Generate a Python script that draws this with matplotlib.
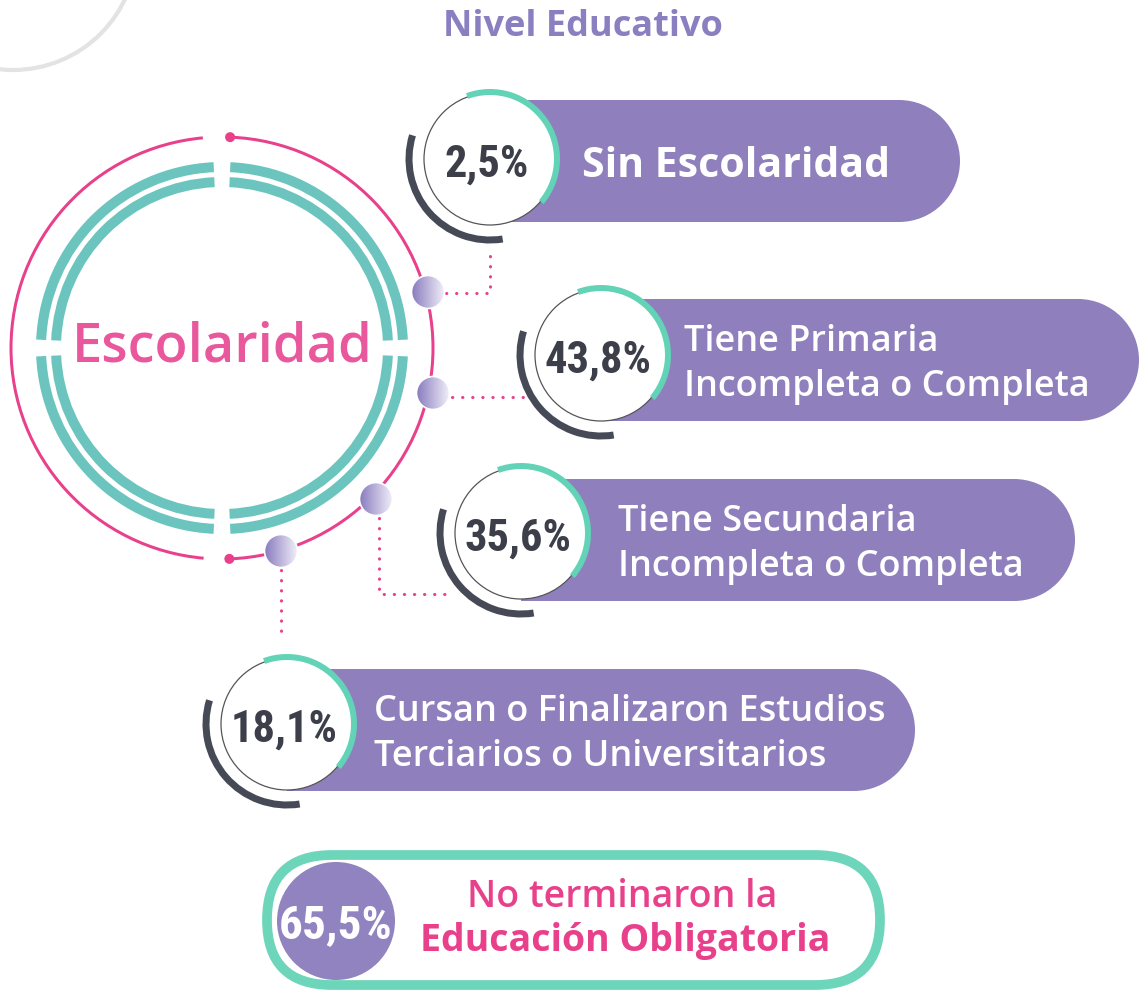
import numpy as np
import matplotlib
matplotlib.use("Agg")
import matplotlib.pyplot as plt
from matplotlib import font_manager
from matplotlib.patches import Circle, Wedge, Rectangle, FancyBboxPatch

# datos del grafico
titulo = "Nivel Educativo"
centro_txt = "Escolaridad"
niveles = [["Sin Escolaridad"],
           ["Tiene Primaria", "Incompleta o Completa"],
           ["Tiene Secundaria", "Incompleta o Completa"],
           ["Cursan o Finalizaron Estudios", "Terciarios o Universitarios"]]
porcentajes = [2.5, 43.8, 35.6, 18.1]
no_terminaron = 65.5
resumen = ["No terminaron la", "Educación Obligatoria"]

# posiciones en pixeles de la imagen (y hacia abajo)
burbuja_x = [490, 601, 521, 287]
burbuja_y = [159, 355, 533, 724]
pill_y = [161, 360, 540, 730]
pill_fin = [960, 1139, 1075, 915]
texto_x = [582, 684, 618, 374]
bolitas = [(428, 292), (433, 393), (376, 499), (281, 551)]

MORADO = '#8f80bd'
ROSA = '#e8408b'
TEAL = '#6cc4bf'
VERDE = '#62d3b6'
OSCURO = '#464a57'

fuentes = font_manager.fontManager.ttflist
nombres = {f.name for f in fuentes}
SANS = 'Open Sans' if 'Open Sans' in nombres else 'DejaVu Sans'
NARROW, STRETCH = SANS, 'normal'
for cand in ('Roboto Condensed', 'Liberation Sans Narrow', 'Open Sans Condensed', 'DejaVu Sans Condensed'):
    if cand in nombres:
        NARROW = cand
        break
else:
    for f in fuentes:
        if f.name in ('Roboto', 'DejaVu Sans', 'Open Sans') and str(f.stretch) in ('condensed', 'semi-condensed', '75', '87'):
            NARROW, STRETCH = f.name, f.stretch
            break


def fmt(v):
    return f"{v:.1f}".replace(".", ",") + "%"


W, H = 1139, 992
fig = plt.figure(figsize=(W / 100, H / 100), dpi=100)
ax = fig.add_axes([0, 0, 1, 1])
ax.axis('off')


def arco(cx, cy, r, a1, a2, ancho, color, z=2):
    # angulos visuales (antihorario en pantalla), eje y invertido
    ax.add_patch(Wedge((cx, cy), r + ancho / 2, -a2, -a1, width=ancho,
                       facecolor=color, edgecolor='none', zorder=z))


# arco gris decorativo arriba a la izquierda
ax.add_patch(Circle((13, -54), 124, facecolor='none', edgecolor='#e3e3e3', lw=3, zorder=0))

# titulo
ax.text(583, 27, titulo, ha='center', va='center', fontsize=26, fontweight='bold',
        color='#8a7fc0', family=SANS)

# circulo central
cx0, cy0, R = 222, 348, 211
arco(cx0, cy0, R, -88, 87.8, 3, ROSA)
arco(cx0, cy0, R, 95.2, 265, 3, ROSA)
for a in (87.8, -88):
    ax.add_patch(Circle((cx0 + R * np.cos(np.radians(a)), cy0 - R * np.sin(np.radians(a))), 5,
                        facecolor=ROSA, edgecolor='none', zorder=3))
for rr in (181, 166):
    for a in (0, 90, 180, 270):
        arco(cx0, cy0, rr, a + 2.6, a + 90 - 2.6, 10, TEAL)
ax.text(cx0, cy0, centro_txt, ha='center', va='center', fontsize=39, fontweight='semibold',
        color='#e9589c', family=SANS, zorder=5)

# lineas punteadas
puntos = dict(color=ROSA, lw=2.2, linestyle=(0, (0.1, 3.2)), dash_capstyle='round', zorder=1)
ax.plot([446, 490, 490], [293, 293, 250], **puntos)
ax.plot([452, 532], [397, 397], **puntos)
ax.plot([379, 379, 446], [518, 594, 594], **puntos)
ax.plot([281, 281], [570, 640], **puntos)

# bolitas con degradado
grad = np.linspace(0, 1, 64)
c1 = np.array([0.54, 0.49, 0.75])
c2 = np.array([0.95, 0.94, 0.98])
img = (c1[None, :] * (1 - grad[:, None]) + c2[None, :] * grad[:, None])[None, :, :]
for bx, by in bolitas:
    r = 16.5
    im = ax.imshow(img, extent=(bx - r, bx + r, by + r, by - r), aspect='auto', zorder=4,
                   interpolation='bilinear')
    clip = Circle((bx, by), r, transform=ax.transData)
    im.set_clip_path(clip)
    ax.add_patch(Circle((bx, by), r, facecolor='none', edgecolor='white', lw=1.2, zorder=4))

# pastillas con porcentaje
for i in range(len(porcentajes)):
    bx, by = burbuja_x[i], burbuja_y[i]
    py, fin = pill_y[i], pill_fin[i]
    h = 61
    ax.add_patch(Rectangle((bx, py - h), fin - h - bx, 2 * h, facecolor=MORADO,
                           edgecolor='none', zorder=1))
    ax.add_patch(Circle((fin - h, py), h, facecolor=MORADO, edgecolor='none', zorder=1))
    arco(bx, by, 81, 163, 279, 7, OSCURO, z=2)
    ax.add_patch(Circle((bx, by), 66, facecolor='white', edgecolor='#555555', lw=0.9, zorder=3))
    arco(bx, by, 67, -40, 110, 6, VERDE, z=4)
    ax.text(bx - 3, by + 18, fmt(porcentajes[i]), ha='center', va='baseline', fontsize=32,
            fontweight='bold', fontstretch=STRETCH, color='#3c3f4a', family=NARROW, zorder=5)
    lineas = niveles[i]
    if len(lineas) == 1:
        ys = [py + 16]
        tam, peso = 29.5, 'bold'
    else:
        ys = [py - 9, py + 36]
        tam, peso = 26, 'semibold'
    for t, yy in zip(lineas, ys):
        ax.text(texto_x[i], yy, t, ha='left', va='baseline', fontsize=tam, fontweight=peso,
                color='white', family=SANS, zorder=5)

# recuadro inferior
ax.add_patch(FancyBboxPatch((267, 855), 613, 130, boxstyle="round,pad=0,rounding_size=65",
                            facecolor='white', edgecolor='#6dd5b9', lw=7, zorder=1))
ax.add_patch(Circle((336, 921), 59, facecolor='#9183bf', edgecolor='none', zorder=2))
ax.text(336, 938, fmt(no_terminaron), ha='center', va='baseline', fontsize=34, fontweight='bold',
        fontstretch=STRETCH, color='white', family=NARROW, zorder=5)
ax.text(622, 897, resumen[0], ha='center', va='center', fontsize=27, fontweight='semibold',
        color=ROSA, family=SANS, zorder=5)
ax.text(625, 941, resumen[1], ha='center', va='center', fontsize=27, fontweight='bold',
        color=ROSA, family=SANS, zorder=5)

ax.set_xlim(0, W)
ax.set_ylim(H, 0)
fig.savefig("out.png", dpi=100, facecolor='white')
